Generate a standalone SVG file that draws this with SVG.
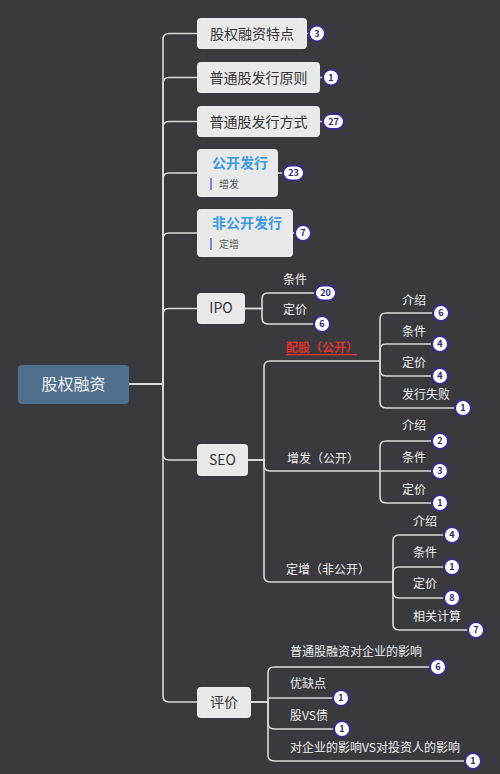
<svg xmlns="http://www.w3.org/2000/svg" width="500" height="774" viewBox="0 0 500 774">
<style>
text{font-family:"Noto Sans CJK SC","Noto Sans",sans-serif}
.c{fill:none;stroke:#d9d9d9;stroke-width:1.6}
.n{fill:#e9e9ea}
.nt{font-size:14px;fill:#333;text-anchor:middle}
.bt{font-size:14px;font-weight:bold;fill:#3d9be0}
.st{font-size:10px;fill:#555}
.t{font-size:12px;fill:#eeeeee}
.b{fill:#fff;stroke:#3b2a8a;stroke-width:2}
.bn{font-size:9px;font-weight:bold;fill:#2d2470;text-anchor:middle}
</style>
<rect width="500" height="774" fill="#3a3a3e"/>
<g id="connectors">
<path class="c" d="M129 384 H163 V39.5 Q163 33.5 169 33.5 H197"/>
<path class="c" d="M129 384 H163 V83.5 Q163 77.5 169 77.5 H197"/>
<path class="c" d="M129 384 H163 V127.5 Q163 121.5 169 121.5 H197"/>
<path class="c" d="M129 384 H163 V179 Q163 173 169 173 H197"/>
<path class="c" d="M129 384 H163 V239 Q163 233 169 233 H197"/>
<path class="c" d="M129 384 H163 V314.5 Q163 308.5 169 308.5 H197"/>
<path class="c" d="M129 384 H163 V454 Q163 460 169 460 H197"/>
<path class="c" d="M129 384 H163 V696 Q163 702 169 702 H197"/>
<path class="c" d="M307 33.5 H309 M320 77.5 H323 M320 121.5 H323 M278 173 H283 M293 233 H295"/>
<path class="c" d="M245 308.5 H262 V299 Q262 293 268 293 H315"/>
<path class="c" d="M245 308.5 H262 V318 Q262 324 268 324 H314"/>
<path class="c" d="M248 460 H264 V367 Q264 361 270 361 H380"/>
<path class="c" d="M248 460 H264 V465 Q264 471 270 471 H380"/>
<path class="c" d="M248 460 H264 V576 Q264 582 270 582 H393"/>
<path class="c" d="M380 361 V319 Q380 313 386 313 H433"/>
<path class="c" d="M380 361 V350 Q380 344 386 344 H432"/>
<path class="c" d="M380 361 V370 Q380 376 386 376 H432"/>
<path class="c" d="M380 361 V402 Q380 408 386 408 H455"/>
<path class="c" d="M380 471 V447 Q380 441 386 441 H432"/>
<path class="c" d="M380 471 H432"/>
<path class="c" d="M380 471 V497 Q380 503 386 503 H432"/>
<path class="c" d="M393 582 V541 Q393 535 399 535 H444"/>
<path class="c" d="M393 582 V573 Q393 567 399 567 H444"/>
<path class="c" d="M393 582 V592 Q393 598 399 598 H444"/>
<path class="c" d="M393 582 V624 Q393 630 399 630 H468"/>
<path class="c" d="M251 702 H268 V673 Q268 667 274 667 H430"/>
<path class="c" d="M251 702 H268 V700 Q268 698 270 698 H333"/>
<path class="c" d="M251 702 H268 V723 Q268 729 274 729 H334"/>
<path class="c" d="M251 702 H268 V755 Q268 761 274 761 H465"/>
</g>
<g id="root"><rect x="18" y="365" width="111" height="39" rx="4" fill="#4e6f8e"/><text x="73.5" y="390" font-size="16" fill="#f2f2f2" text-anchor="middle">股权融资</text></g>
<g id="n1"><rect class="n" x="197" y="18" width="110" height="31" rx="4"/><text class="nt" x="252" y="38.5">股权融资特点</text><rect class="b" x="309" y="25.5" width="16" height="16" rx="8"/><text class="bn" x="317" y="36.5">3</text></g>
<g id="n2"><rect class="n" x="197" y="62" width="123" height="31" rx="4"/><text class="nt" x="258.5" y="82.5">普通股发行原则</text><rect class="b" x="323" y="69.5" width="16" height="16" rx="8"/><text class="bn" x="331" y="80.5">1</text></g>
<g id="n3"><rect class="n" x="197" y="106" width="123" height="31" rx="4"/><text class="nt" x="258.5" y="126.5">普通股发行方式</text><rect class="b" x="323" y="114" width="21" height="15" rx="7.5"/><text class="bn" x="333.5" y="124.5">27</text></g>
<g id="n4"><rect class="n" x="197" y="149" width="81" height="48" rx="4"/><text class="bt" x="212" y="168">公开发行</text><rect x="210" y="178" width="2" height="12" fill="#8c7ee0"/><text class="st" x="219" y="188">增发</text><rect class="b" x="283" y="165.5" width="21" height="15" rx="7.5"/><text class="bn" x="293.5" y="176">23</text></g>
<g id="n5"><rect class="n" x="197" y="209" width="96" height="48" rx="4"/><text class="bt" x="212" y="228">非公开发行</text><rect x="210" y="238" width="2" height="12" fill="#8c7ee0"/><text class="st" x="219" y="248">定增</text><rect class="b" x="295" y="225" width="16" height="16" rx="8"/><text class="bn" x="303" y="236">7</text></g>
<g id="ipo"><rect class="n" x="197" y="293" width="48" height="31" rx="4"/><text class="nt" x="221" y="313" font-size="13">IPO</text></g>
<g id="ipo-c"><text class="t" x="283" y="284">条件</text><rect class="b" x="315" y="285.5" width="21" height="15" rx="7.5"/><text class="bn" x="325.5" y="296">20</text>
<text class="t" x="283" y="314">定价</text><rect class="b" x="314" y="316" width="16" height="16" rx="8"/><text class="bn" x="322" y="327">6</text></g>
<g id="seo"><rect class="n" x="197" y="444" width="51" height="32" rx="4"/><text class="nt" x="222.5" y="465" font-size="13">SEO</text></g>
<g id="peigu"><text x="286" y="352" font-size="12" font-weight="bold" fill="#e0332e">配股（公开）</text><rect x="286" y="354" width="71" height="1.3" fill="#e0332e"/></g>
<g id="peigu-c">
<text class="t" x="402" y="304.5">介绍</text><rect class="b" x="433" y="305" width="16" height="16" rx="8"/><text class="bn" x="441" y="316">6</text>
<text class="t" x="402" y="336">条件</text><rect class="b" x="432" y="336" width="16" height="16" rx="8"/><text class="bn" x="440" y="347">4</text>
<text class="t" x="402" y="367">定价</text><rect class="b" x="432" y="368" width="16" height="16" rx="8"/><text class="bn" x="440" y="379">4</text>
<text class="t" x="402" y="399">发行失败</text><rect class="b" x="455" y="400" width="16" height="16" rx="8"/><text class="bn" x="463" y="411">1</text></g>
<g id="zengfa"><text class="t" x="287" y="463">增发（公开）</text></g>
<g id="zengfa-c">
<text class="t" x="402" y="430">介绍</text><rect class="b" x="432" y="433" width="16" height="16" rx="8"/><text class="bn" x="440" y="444">2</text>
<text class="t" x="402" y="462">条件</text><rect class="b" x="432" y="463" width="16" height="16" rx="8"/><text class="bn" x="440" y="474">3</text>
<text class="t" x="402" y="494">定价</text><rect class="b" x="432" y="495" width="16" height="16" rx="8"/><text class="bn" x="440" y="506">1</text></g>
<g id="dingzeng"><text class="t" x="286" y="574">定增（非公开）</text></g>
<g id="dingzeng-c">
<text class="t" x="413" y="526">介绍</text><rect class="b" x="444" y="527" width="16" height="16" rx="8"/><text class="bn" x="452" y="538">4</text>
<text class="t" x="413" y="557">条件</text><rect class="b" x="444" y="559" width="16" height="16" rx="8"/><text class="bn" x="452" y="570">1</text>
<text class="t" x="413" y="588">定价</text><rect class="b" x="444" y="590" width="16" height="16" rx="8"/><text class="bn" x="452" y="601">8</text>
<text class="t" x="413" y="621">相关计算</text><rect class="b" x="468" y="622" width="16" height="16" rx="8"/><text class="bn" x="476" y="633">7</text></g>
<g id="pingjia"><rect class="n" x="197" y="687" width="54" height="31" rx="4"/><text class="nt" x="224" y="707">评价</text></g>
<g id="pingjia-c">
<text class="t" x="290" y="656">普通股融资对企业的影响</text><rect class="b" x="430" y="659" width="16" height="16" rx="8"/><text class="bn" x="438" y="670">6</text>
<text class="t" x="290" y="688">优缺点</text><rect class="b" x="333" y="690" width="16" height="16" rx="8"/><text class="bn" x="341" y="701">1</text>
<text class="t" x="290" y="720">股VS债</text><rect class="b" x="334" y="721" width="16" height="16" rx="8"/><text class="bn" x="342" y="732">1</text>
<text class="t" x="290" y="752">对企业的影响VS对投资人的影响</text><rect class="b" x="465" y="753" width="16" height="16" rx="8"/><text class="bn" x="473" y="764">1</text></g>
</svg>
